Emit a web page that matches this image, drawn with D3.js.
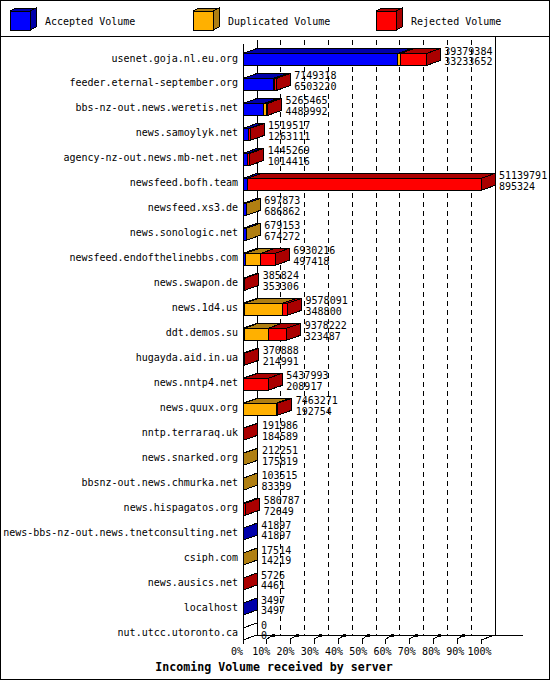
<!DOCTYPE html>
<html>
<head>
<meta charset="utf-8">
<script src="https://cdn.jsdelivr.net/npm/d3@7"></script>
<style>
    body { margin: 0; background: #fff; }
    svg { display: block; font-family: "DejaVu Sans Mono", monospace; shape-rendering: crispEdges; }
</style>
</head>
<body>
<div id="chart"></div>
<script>

// servers, top to bottom
const hosts = [
    "usenet.goja.nl.eu.org", "feeder.eternal-september.org", "bbs-nz-out.news.weretis.net",
    "news.samoylyk.net", "agency-nz-out.news.mb-net.net", "newsfeed.bofh.team",
    "newsfeed.xs3.de", "news.sonologic.net", "newsfeed.endofthelinebbs.com",
    "news.swapon.de", "news.1d4.us", "ddt.demos.su", "hugayda.aid.in.ua",
    "news.nntp4.net", "news.quux.org", "nntp.terraraq.uk", "news.snarked.org",
    "bbsnz-out.news.chmurka.net", "news.hispagatos.org",
    "news-bbs-nz-out.news.tnetconsulting.net", "csiph.com", "news.ausics.net",
    "localhost", "nut.utcc.utoronto.ca"
];

// printed numbers (total / accepted)
const totalVolume = [
    39379384, 7149318, 5265465, 1519517, 1445269, 51139791, 697873, 679153,
    6930216, 385824, 9578091, 9378222, 370888, 5437993, 7463271, 191986,
    212251, 103515, 580787, 41897, 17514, 5726, 3497, 0
];
const acceptedVolume = [
    33233652, 6503220, 4489992, 1263111, 1014416, 895324, 686862, 674272,
    497418, 353306, 348800, 323487, 214991, 208917, 192754, 184589,
    175819, 83339, 72649, 41897, 14219, 4461, 3497, 0
];
// split of the rest
const duplicatedVolume = [
    560000, 340000, 600000, 0, 0, 0, 11011, 4881,
    3370000, 0, 8170000, 5110000, 0, 0, 6950000, 0,
    36432, 20176, 0, 0, 3295, 0, 0, 0
];
const rejectedVolume = [
    5585732, 306098, 175473, 256406, 430853, 50244467, 0, 0,
    3062798, 32518, 1059291, 3944735, 155897, 5229076, 320517, 7397,
    0, 0, 508138, 0, 0, 1265, 0, 0
];

const seriesKeys = ["accepted", "duplicated", "rejected"];
const seriesNames = ["Accepted Volume", "Duplicated Volume", "Rejected Volume"];
const percentTicks = [0, 10, 20, 30, 40, 50, 60, 70, 80, 90, 100];
const tickLabels = ["0%", "10%", "20%", "30%", "40%", "50%", "60%", "70%", "80%", "90%", "100%"];


class VolumeChart {

    constructor(_parentElement) {
        this.parentElement = _parentElement;
        this.displayData = [];

        this.initVis();
    }

    initVis() {
        let vis = this;

        vis.width = 550;
        vis.height = 680;
        vis.depth = { x: 14, y: -5 };
        vis.floor = 640;

        vis.svg = d3.select("#" + vis.parentElement).append("svg")
            .attr("width", vis.width)
            .attr("height", vis.height);

        vis.svg.append("rect")
            .attr("x", 0.5).attr("y", 0.5)
            .attr("width", vis.width - 1).attr("height", vis.height - 1)
            .attr("fill", "#fff").attr("stroke", "#000");

        vis.svg.append("line")
            .attr("x1", 0).attr("x2", vis.width)
            .attr("y1", 36.5).attr("y2", 36.5)
            .attr("stroke", "#000");

        vis.color = d3.scaleOrdinal().domain(seriesKeys).range(["#0000ff", "#ffb000", "#ff0000"]);
        vis.shade = d3.scaleOrdinal().domain(seriesKeys).range(["#0000aa", "#b07f12", "#aa0000"]);

        // percent of the biggest server
        vis.x = d3.scaleLinear().domain([0, 100]).range([243, 481]);
        vis.y = d3.scalePoint().domain(hosts).range([59.5, 634]);
        vis.labelX = d3.scaleLinear().domain([0, 100]).range([237, 479.5]);

        vis.drawLegend();
        vis.drawFrame();

        vis.wrangleData();
    }

    drawLegend() {
        let vis = this;
        let lx = d3.scalePoint().domain(seriesKeys).range([10, 376]);
        let d = { x: 6, y: -3 };

        let item = vis.svg.append("g").selectAll("g")
            .data(seriesKeys)
            .enter().append("g")
            .attr("transform", k => "translate(" + lx(k) + ",11)");

        item.append("path")
            .attr("d", `M20,0 L${20 + d.x},${d.y} L${20 + d.x},${19 + d.y} L20,19 Z M0,0 L${d.x},${d.y} L${20 + d.x},${d.y} L20,0 Z`)
            .attr("fill", k => vis.shade(k))
            .attr("stroke", "#000");

        item.append("rect")
            .attr("width", 20).attr("height", 19)
            .attr("fill", k => vis.color(k))
            .attr("stroke", "#000");

        item.append("text")
            .attr("x", 35).attr("y", 13.5)
            .attr("font-size", "10px")
            .text((k, i) => seriesNames[i]);
    }

    drawFrame() {
        let vis = this;
        let dx = vis.depth.x, dy = vis.depth.y;
        let back = vis.floor + dy;
        let g = vis.svg.append("g").attr("stroke", "#000");

        // dashed grid on back wall
        g.selectAll(".grid")
            .data(percentTicks.slice(1, -1))
            .enter().append("line")
            .attr("x1", p => vis.x(p) + dx).attr("x2", p => vis.x(p) + dx)
            .attr("y1", 40).attr("y2", back)
            .attr("stroke-dasharray", "5,4");

        g.append("line").attr("x1", vis.x(0)).attr("x2", vis.x(0)).attr("y1", 44).attr("y2", vis.floor + 4);
        g.append("line").attr("x1", vis.x(0) + dx).attr("x2", vis.x(0) + dx).attr("y1", 40).attr("y2", back);
        g.append("line").attr("x1", vis.x(100) + dx).attr("x2", vis.x(100) + dx).attr("y1", 36).attr("y2", back);
        g.append("line").attr("x1", vis.x(0) + dx).attr("x2", 523).attr("y1", back).attr("y2", back);
        g.append("line").attr("x1", vis.x(0)).attr("x2", vis.x(0) + dx).attr("y1", vis.floor).attr("y2", back);
        g.append("line").attr("x1", vis.x(100)).attr("x2", vis.x(100) + dx).attr("y1", vis.floor).attr("y2", back);

        // axis ticks
        let tick = g.selectAll(".tick")
            .data(percentTicks)
            .enter().append("g");
        tick.append("line")
            .attr("x1", p => vis.x(p)).attr("x2", p => vis.x(p))
            .attr("y1", vis.floor - 1).attr("y2", vis.floor + 4);
        tick.filter(p => p < 100).append("line")
            .attr("x1", p => vis.x(p)).attr("x2", p => vis.x(p) + 5)
            .attr("y1", vis.floor - 1).attr("y2", vis.floor - 4);
        tick.filter(p => p < 100).append("rect")
            .attr("x", p => vis.x(p) + 5).attr("y", back - 1.5)
            .attr("width", 3).attr("height", 3)
            .attr("fill", "#000").attr("stroke", "none");

        vis.svg.append("g").selectAll("text")
            .data(percentTicks)
            .enter().append("text")
            .attr("x", p => vis.labelX(p))
            .attr("y", 655)
            .attr("text-anchor", "middle")
            .attr("font-size", "10px")
            .text((p, i) => tickLabels[i]);

        vis.svg.append("text")
            .attr("x", 274).attr("y", 671)
            .attr("text-anchor", "middle")
            .attr("font-size", "11.6px")
            .attr("font-weight", "bold")
            .text("Incoming Volume received by server");
    }

    wrangleData() {
        let vis = this;

        vis.displayData = hosts.map((h, i) => ({
            host: h,
            total: totalVolume[i],
            accepted: acceptedVolume[i],
            duplicated: duplicatedVolume[i],
            rejected: rejectedVolume[i]
        }));

        vis.maxTotal = d3.max(totalVolume);
        vis.pct = v => v / vis.maxTotal * 100;

        vis.stacked = d3.stack().keys(seriesKeys)(vis.displayData);

        vis.updateVis();
    }

    updateVis() {
        let vis = this;
        let dx = vis.depth.x, dy = vis.depth.y;
        let half = 6;

        // host labels
        vis.svg.append("g").selectAll("text")
            .data(vis.displayData)
            .enter().append("text")
            .attr("x", 238)
            .attr("y", d => vis.y(d.host) + 2)
            .attr("text-anchor", "end")
            .attr("font-size", "10px")
            .text(d => d.host);

        let bars = vis.svg.append("g");

        vis.displayData.forEach((d, i) => {
            let c = vis.y(d.host);
            let yt = c - half, yb = c + half;
            let segs = vis.stacked
                .map(s => ({ key: s.key, x0: vis.x(vis.pct(s[i][0])), x1: vis.x(vis.pct(s[i][1])) }))
                .filter(s => d[s.key] > 0);

            let row = bars.append("g").attr("stroke", "#000");

            row.selectAll(".front")
                .data(segs)
                .enter().append("rect")
                .attr("x", s => s.x0).attr("y", yt)
                .attr("width", s => s.x1 - s.x0).attr("height", yb - yt)
                .attr("fill", s => vis.color(s.key));

            row.selectAll(".top")
                .data(segs)
                .enter().append("path")
                .attr("d", s => `M${s.x0},${yt} L${s.x0 + dx},${yt + dy} L${s.x1 + dx},${yt + dy} L${s.x1},${yt} Z`)
                .attr("fill", s => vis.shade(s.key));

            let last = segs[segs.length - 1];
            let xe = vis.x(vis.pct(d.total));
            row.append("path")
                .attr("d", `M${xe},${yt} L${xe + dx},${yt + dy} L${xe + dx},${yb + dy} L${xe},${yb} Z`)
                .attr("fill", last ? vis.shade(last.key) : "#fff");

            let t = vis.svg.append("text")
                .attr("x", xe + 18)
                .attr("font-size", "10px");
            t.append("tspan").attr("x", xe + 18).attr("y", c - 5).text(d.total);
            t.append("tspan").attr("x", xe + 18).attr("y", c + 5.4).text(d.accepted);
        });
    }
}

new VolumeChart("chart");

</script>
</body>
</html>
